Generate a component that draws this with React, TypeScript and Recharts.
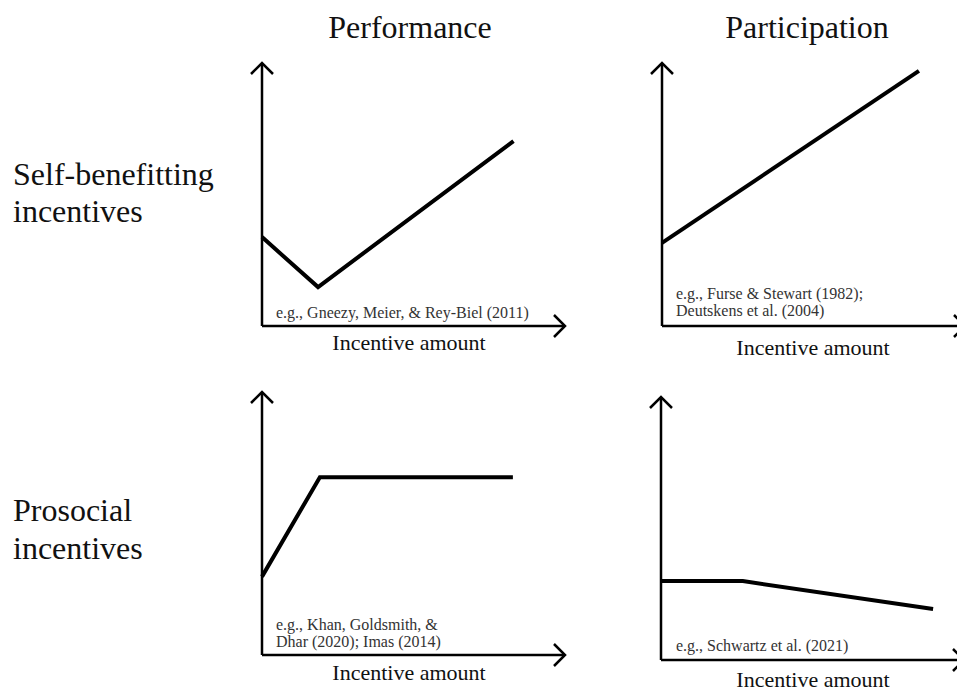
import { LineChart, Line, XAxis, YAxis } from 'recharts'

// x = incentive amount, y = outcome (arbitrary 0–10 scale)
const perfSelfX = [0, 1.85, 8.3]
const perfSelfY = [3.38, 1.48, 7.03]

const partSelfX = [0, 8.48]
const partSelfY = [3.16, 9.7]

const perfProX = [0, 1.91, 8.28]
const perfProY = [2.98, 6.76, 6.76]

const partProX = [0, 2.7, 8.98]
const partProY = [3.0, 3.0, 1.94]

const colTitles = ['Performance', 'Participation']
const rowTitles = [
  ['Self-benefitting', 'incentives'],
  ['Prosocial', 'incentives'],
]
const xAxisTitle = 'Incentive amount'
const citations = [
  ['e.g., Gneezy, Meier, & Rey-Biel (2011)'],
  ['e.g., Furse & Stewart (1982);', 'Deutskens et al. (2004)'],
  ['e.g., Khan, Goldsmith, &', 'Dhar (2020); Imas (2014)'],
  ['e.g., Schwartz et al. (2021)'],
]

const toRows = (xs: number[], ys: number[]) => xs.map((x, i) => ({ x, y: ys[i] }))

const FONT = "'Liberation Serif', 'Times New Roman', 'DejaVu Serif', serif"
const M = 14
const PW = 303
const PH = 263

type PanelProps = {
  data: { x: number; y: number }[]
  left: number
  top: number
}

function Panel({ data, left, top }: PanelProps) {
  const axisStyle = { stroke: '#000', strokeWidth: 2.5 }
  return (
    <div style={{ position: 'absolute', left: left - M, top: top - M }}>
      <LineChart
        width={PW + 2 * M}
        height={PH + 2 * M}
        data={data}
        margin={{ top: M, right: M, bottom: M - 1, left: M - 1 }}
      >
        <XAxis
          type="number"
          dataKey="x"
          domain={[0, 10]}
          height={1}
          tick={false}
          tickLine={false}
          axisLine={{ ...axisStyle, markerEnd: 'url(#arrowHead)' }}
        />
        <YAxis
          type="number"
          domain={[0, 10]}
          width={1}
          tick={false}
          tickLine={false}
          axisLine={{ ...axisStyle, markerStart: 'url(#arrowHead)' }}
        />
        <Line
          type="linear"
          dataKey="y"
          stroke="#000"
          strokeWidth={4}
          strokeLinejoin="miter"
          dot={false}
          activeDot={false}
          isAnimationActive={false}
        />
      </LineChart>
    </div>
  )
}

export default function App() {
  const t = { fontFamily: FONT }
  return (
    <div
      style={{
        position: 'absolute',
        left: 0,
        top: 0,
        width: 957,
        height: 692,
        overflow: 'hidden',
        background: '#fff',
      }}
    >
      <svg width={0} height={0} style={{ position: 'absolute' }}>
        <defs>
          <marker
            id="arrowHead"
            viewBox="-14 -14 16 28"
            markerWidth={16}
            markerHeight={28}
            refX={0}
            refY={0}
            markerUnits="userSpaceOnUse"
            orient="auto-start-reverse"
          >
            <path d="M-11,-11 L0,0 L-11,11" fill="none" stroke="#000" strokeWidth={2.5} />
          </marker>
        </defs>
      </svg>

      <Panel data={toRows(perfSelfX, perfSelfY)} left={262} top={63} />
      <Panel data={toRows(partSelfX, partSelfY)} left={662} top={63} />
      <Panel data={toRows(perfProX, perfProY)} left={262} top={392} />
      <Panel data={toRows(partProX, partProY)} left={661} top={397} />

      <svg
        width={957}
        height={692}
        style={{ position: 'absolute', left: 0, top: 0, pointerEvents: 'none' }}
      >
        <text x={410} y={38} fontSize={32} textAnchor="middle" fill="#111" style={t}>
          {colTitles[0]}
        </text>
        <text x={807} y={38} fontSize={32} textAnchor="middle" fill="#111" style={t}>
          {colTitles[1]}
        </text>

        <text x={13} y={185} fontSize={32} fill="#111" style={t}>{rowTitles[0][0]}</text>
        <text x={13} y={222} fontSize={32} fill="#111" style={t}>{rowTitles[0][1]}</text>
        <text x={13} y={521} fontSize={32} fill="#111" style={t}>{rowTitles[1][0]}</text>
        <text x={13} y={559} fontSize={32} fill="#111" style={t}>{rowTitles[1][1]}</text>

        <text x={409} y={350} fontSize={22} textAnchor="middle" fill="#111" style={t}>{xAxisTitle}</text>
        <text x={813} y={355} fontSize={22} textAnchor="middle" fill="#111" style={t}>{xAxisTitle}</text>
        <text x={409} y={680} fontSize={22} textAnchor="middle" fill="#111" style={t}>{xAxisTitle}</text>
        <text x={813} y={687} fontSize={22} textAnchor="middle" fill="#111" style={t}>{xAxisTitle}</text>

        <g fontSize={16} fill="#333" style={t}>
          <text x={276} y={318}>{citations[0][0]}</text>
          <text x={676} y={299}>{citations[1][0]}</text>
          <text x={676} y={316}>{citations[1][1]}</text>
          <text x={276} y={630}>{citations[2][0]}</text>
          <text x={276} y={647}>{citations[2][1]}</text>
          <text x={676} y={651}>{citations[3][0]}</text>
        </g>
      </svg>
    </div>
  )
}
